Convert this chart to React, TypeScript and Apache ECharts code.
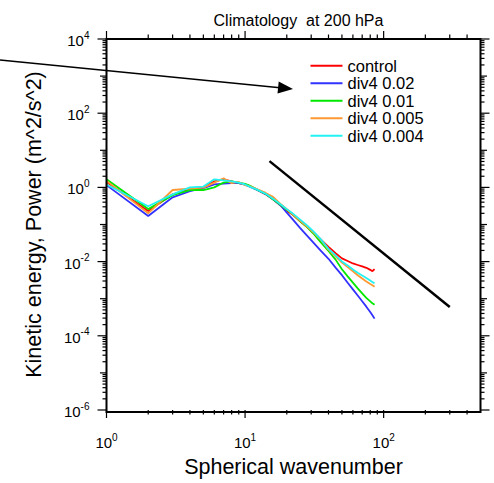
import React, { useEffect, useRef } from "react";
import * as echarts from "echarts";

// Spherical wavenumbers
const K = [1, 2, 3, 4, 5, 6, 7, 8, 9, 10, 11, 12, 14, 16, 18, 20, 22, 25, 28, 31, 35, 40, 45, 50, 55, 60, 65, 70, 75, 80, 83, 86];

const control = [1.4, 0.23, 0.65, 0.88, 1.0, 1.45, 1.64, 1.45, 1.3, 1.2, 1.05, 0.9, 0.66, 0.47, 0.33, 0.235, 0.185, 0.122, 0.087, 0.061, 0.04, 0.025, 0.0168, 0.0122, 0.0104, 0.0089, 0.0081, 0.0074, 0.0068, 0.006, 0.0055, 0.0063];
const div4_002 = [1.15, 0.17, 0.54, 0.79, 0.95, 1.2, 1.26, 1.3, 1.3, 1.18, 1.02, 0.88, 0.67, 0.47, 0.33, 0.21, 0.14, 0.08, 0.05, 0.033, 0.02, 0.0119, 0.0069, 0.0043, 0.0027, 0.00178, 0.00122, 0.00085, 0.00061, 0.00044, 0.00036, 0.00029];
const div4_001 = [1.65, 0.26, 0.62, 0.85, 0.85, 1.0, 1.35, 1.45, 1.35, 1.25, 1.08, 0.9, 0.68, 0.47, 0.34, 0.25, 0.19, 0.122, 0.085, 0.058, 0.034, 0.0193, 0.0113, 0.0062, 0.004, 0.0027, 0.0019, 0.0014, 0.00105, 0.00085, 0.00075, 0.00069];
const div4_0005 = [1.5, 0.2, 0.85, 0.93, 0.98, 1.35, 1.76, 1.3, 1.4, 1.15, 1.05, 0.92, 0.72, 0.55, 0.36, 0.26, 0.19, 0.125, 0.088, 0.062, 0.04, 0.021, 0.0138, 0.0094, 0.0071, 0.0055, 0.0043, 0.0035, 0.0029, 0.0025, 0.0023, 0.0021];
const div4_0004 = [1.2, 0.31, 0.65, 1.0, 1.05, 1.65, 1.55, 1.45, 1.35, 1.2, 1.02, 0.9, 0.68, 0.49, 0.35, 0.26, 0.2, 0.135, 0.095, 0.066, 0.041, 0.022, 0.0148, 0.0101, 0.0079, 0.0061, 0.005, 0.0042, 0.0036, 0.0031, 0.0028, 0.0026];

const seriesNames = ["control", "div4 0.02", "div4 0.01", "div4 0.005", "div4 0.004"];
const seriesValues = [control, div4_002, div4_001, div4_0005, div4_0004];
const seriesColors = ["#ff0000", "#3232ff", "#00e800", "#ff9933", "#22f2f2"];

// Reference (k^-3) line
const refK = [15, 300];
const refP = [5.1, 0.0006];

// Axis extents and ticks
const X_MIN = 1;
const X_MAX = 500;
const Y_MIN = 1e-6;
const Y_MAX = 1e4;
const xTickMajor = [1, 10, 100];
const xTickMinor = [2, 3, 4, 5, 6, 7, 8, 9, 20, 30, 40, 50, 60, 70, 80, 90, 200, 300, 400];
const yTickMajor = [1e-6, 1e-4, 1e-2, 1, 1e2, 1e4];
const yTickMid = [1e-5, 1e-3, 1e-1, 10, 1e3];
const yDecades = [1e-6, 1e-5, 1e-4, 1e-3, 1e-2, 1e-1, 1, 10, 100, 1000];
const minorSteps = [2, 3, 4, 5, 6, 7, 8, 9];

const titleText = "Climatology  at 200 hPa";
const xName = "Spherical wavenumber";
const yName = "Kinetic energy, Power (m^2/s^2)";

const FONT = "Liberation Sans, Arial, Helvetica, sans-serif";

// plot frame (grid) in page pixels
const GRID_LEFT = 106.5;
const GRID_TOP = 39;
const GRID_W = 374;
const GRID_H = 373;

function expLabel(v: number): string {
  const e = Math.log10(v);
  const r = Math.round(e);
  if (Math.abs(e - r) > 1e-6) return "";
  return `{b|10}{s|${r}}`;
}

const richLabel = {
  b: { fontSize: 15, lineHeight: 18, fontFamily: FONT, color: "#000", verticalAlign: "bottom" },
  s: { fontSize: 10, lineHeight: 10, fontFamily: FONT, color: "#000", verticalAlign: "top" },
};

export default function App() {
  const ref = useRef<HTMLDivElement>(null);
  useEffect(() => {
    if (!ref.current) return;
    const chart = echarts.init(ref.current, undefined, { renderer: "svg" });

    // [x, y, tickLength, kind] kind: 0 = x tick, 1 = y tick
    const tickData: number[][] = [];
    xTickMajor.forEach((v) => tickData.push([v, 1, 8, 0]));
    xTickMinor.forEach((v) => tickData.push([v, 1, 4.5, 0]));
    yTickMajor.forEach((v) => tickData.push([1, v, 9, 1]));
    yTickMid.forEach((v) => tickData.push([1, v, 6.5, 1]));
    yDecades.forEach((d) => minorSteps.forEach((m) => tickData.push([1, d * m, 4, 1])));

    const dataSeries = seriesNames.map((name, i) => ({
      name,
      type: "line",
      data: K.map((k, j) => [k, seriesValues[i][j]]),
      symbol: "none",
      lineStyle: { color: seriesColors[i], width: 1.8 },
      itemStyle: { color: seriesColors[i] },
      silent: true,
      z: 3 + i,
    }));

    const L = GRID_LEFT, T = GRID_TOP, R = GRID_LEFT + GRID_W, B = GRID_TOP + GRID_H;
    const frameStyle = { stroke: "#000", lineWidth: 2 };

    chart.setOption({
      animation: false,
      backgroundColor: "#fff",
      title: {
        text: titleText,
        left: 293.5,
        top: 7,
        textAlign: "center",
        textStyle: { fontSize: 16, fontWeight: "normal", fontFamily: FONT, color: "#000" },
      },
      legend: {
        data: seriesNames,
        orient: "vertical",
        left: 310.5,
        top: 57,
        padding: 0,
        itemWidth: 32,
        itemHeight: 2,
        itemGap: 0,
        icon: "rect",
        selectedMode: false,
        textStyle: { fontSize: 16.5, lineHeight: 17.5, fontFamily: FONT, color: "#000" },
      },
      grid: {
        left: GRID_LEFT,
        top: GRID_TOP,
        width: GRID_W,
        height: GRID_H,
        show: false,
      },
      xAxis: {
        type: "log",
        logBase: 10,
        min: X_MIN,
        max: X_MAX,
        position: "bottom",
        name: xName,
        nameLocation: "middle",
        nameGap: 46,
        nameTextStyle: { fontSize: 21.5, fontFamily: FONT, color: "#000" },
        axisLine: { show: false },
        axisTick: { show: false },
        splitLine: { show: false },
        axisLabel: { margin: 22, color: "#000", formatter: expLabel, rich: richLabel },
      },
      yAxis: {
        type: "log",
        logBase: 100,
        min: Y_MIN,
        max: Y_MAX,
        position: "left",
        name: yName,
        nameLocation: "middle",
        nameGap: 62,
        nameTextStyle: { fontSize: 21.5, fontFamily: FONT, color: "#000" },
        axisLine: { show: false },
        axisTick: { show: false },
        splitLine: { show: false },
        axisLabel: { margin: 17, color: "#000", formatter: expLabel, rich: richLabel },
      },
      graphic: [
        { type: "line", shape: { x1: L, y1: T, x2: R, y2: T }, style: frameStyle, z: 100 },
        { type: "line", shape: { x1: L, y1: B, x2: R, y2: B }, style: frameStyle, z: 100 },
        { type: "line", shape: { x1: L, y1: T - 1, x2: L, y2: B + 1 }, style: frameStyle, z: 100 },
        { type: "line", shape: { x1: R, y1: T - 1, x2: R, y2: B + 1 }, style: frameStyle, z: 100 },
        { type: "line", shape: { x1: 0, y1: 60, x2: 280, y2: 87.7 }, style: { stroke: "#000", lineWidth: 1.6 }, z: 100 },
        { type: "polygon", shape: { points: [[293, 89], [278.7, 81.5], [277.5, 93.5]] }, style: { fill: "#000" }, z: 100 },
      ],
      series: [
        ...dataSeries,
        {
          name: "ref",
          type: "line",
          data: refK.map((k, j) => [k, refP[j]]),
          symbol: "none",
          lineStyle: { color: "#000", width: 2.5 },
          silent: true,
          z: 10,
        },
        {
          name: "ticks",
          type: "custom",
          clip: false,
          silent: true,
          data: tickData,
          z: 20,
          renderItem: (params: any, api: any) => {
            const len = api.value(2);
            const kind = api.value(3);
            const st = { stroke: "#000", lineWidth: 1.2 };
            if (kind === 0) {
              const v = api.value(0);
              const b = api.coord([v, Y_MIN]);
              const t = api.coord([v, Y_MAX]);
              return {
                type: "group",
                children: [
                  { type: "line", shape: { x1: b[0], y1: b[1], x2: b[0], y2: b[1] + len }, style: st },
                  { type: "line", shape: { x1: t[0], y1: t[1], x2: t[0], y2: t[1] - len }, style: st },
                ],
              };
            }
            const v = api.value(1);
            const l = api.coord([X_MIN, v]);
            const r = api.coord([X_MAX, v]);
            return {
              type: "group",
              children: [
                { type: "line", shape: { x1: l[0], y1: l[1], x2: l[0] - len, y2: l[1] }, style: st },
                { type: "line", shape: { x1: r[0], y1: r[1], x2: r[0] + len, y2: r[1] }, style: st },
              ],
            };
          },
        },
      ],
    });
    return () => chart.dispose();
  }, []);
  return <div ref={ref} style={{ position: "absolute", left: 0, top: 0, width: 494, height: 483 }} />;
}
